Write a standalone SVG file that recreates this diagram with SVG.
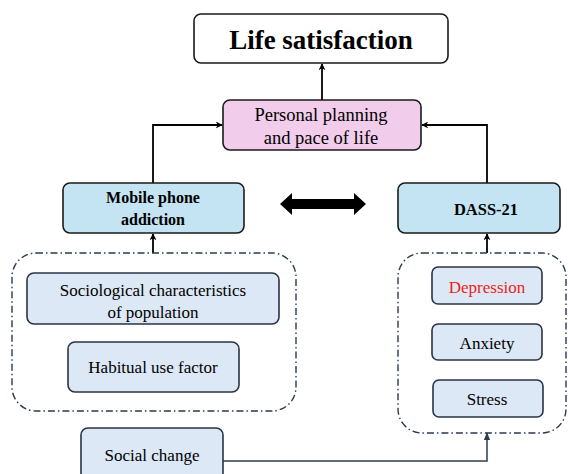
<svg xmlns="http://www.w3.org/2000/svg" width="568" height="474" viewBox="0 0 568 474" font-family="Times New Roman, Liberation Serif, serif">
<defs>
<marker id="ah" viewBox="0 0 10 10" refX="9" refY="5" markerWidth="7" markerHeight="7" markerUnits="userSpaceOnUse" orient="auto"><path d="M0,0 L10,5 L0,10 L3,5 Z" fill="#000"/></marker>
<marker id="ahs" viewBox="0 0 10 10" refX="9" refY="5" markerWidth="8" markerHeight="8" markerUnits="userSpaceOnUse" orient="auto"><path d="M0,1 L10,5 L0,9 Z" fill="#2b3f55"/></marker>
</defs>
<rect width="568" height="474" fill="#fff"/>
<g id="connectors" fill="none" stroke="#000" stroke-width="1.8">
<line x1="322" y1="100" x2="322" y2="64" marker-end="url(#ah)"/>
<polyline points="153,183 153,125 222,125" marker-end="url(#ah)"/>
<polyline points="487,183 487,125 422,125" marker-end="url(#ah)"/>
<line x1="153" y1="253" x2="153" y2="234" marker-end="url(#ah)"/>
<line x1="487" y1="253" x2="487" y2="234" marker-end="url(#ah)"/>
<polyline points="223,461 487,461 487,433" stroke="#2b3f55" stroke-width="1.5" marker-end="url(#ahs)"/>
<path d="M280,204 L292,193 L292,199 L354,199 L354,193 L366,204 L354,215 L354,209 L292,209 L292,215 Z" fill="#000" stroke="none"/>
</g>
<g id="groups" fill="none" stroke="#2a3a4e" stroke-width="1.4" stroke-dasharray="7 3 1.5 3">
<rect id="leftgroup" x="12" y="253" width="284" height="158" rx="24"/>
<rect id="rightgroup" x="398" y="253" width="168" height="180" rx="24"/>
</g>
<g id="life"><rect x="194" y="14" width="254" height="49" rx="7" fill="#fff" stroke="#1a1a1a" stroke-width="1.6"/><text x="321" y="49" font-family="Times New Roman" text-anchor="middle" font-size="27" font-weight="bold">Life satisfaction</text></g>
<g id="personal"><rect x="223" y="100" width="198" height="50" rx="7" fill="#f1cdeb" stroke="#1a1a1a" stroke-width="1.6"/><text x="321" y="121" font-family="Times New Roman" text-anchor="middle" font-size="18.5">Personal planning</text><text x="321" y="144" font-family="Times New Roman" text-anchor="middle" font-size="18.5">and pace of life</text></g>
<g id="mobile"><rect x="63" y="183" width="181" height="50" rx="7" fill="#c5e4f3" stroke="#1a1a1a" stroke-width="1.6"/><text x="153" y="203" font-family="Times New Roman" text-anchor="middle" font-weight="bold" font-size="16">Mobile phone</text><text x="153" y="225" font-family="Times New Roman" text-anchor="middle" font-weight="bold" font-size="16">addiction</text></g>
<g id="dass"><rect x="398" y="183" width="162" height="50" rx="7" fill="#c5e4f3" stroke="#1a1a1a" stroke-width="1.6"/><text x="486" y="215" font-family="Times New Roman" text-anchor="middle" font-weight="bold" font-size="16.5">DASS-21</text></g>
<g id="socio"><rect x="27" y="273" width="252" height="51" rx="7" fill="#dce8f5" stroke="#2a3444" stroke-width="1.6"/><text x="153" y="296" font-family="Times New Roman" text-anchor="middle" font-size="17">Sociological characteristics</text><text x="153" y="318" font-family="Times New Roman" text-anchor="middle" font-size="17">of population</text></g>
<g id="habit"><rect x="68" y="342" width="171" height="50" rx="7" fill="#dce8f5" stroke="#2a3444" stroke-width="1.6"/><text x="153" y="373" font-family="Times New Roman" text-anchor="middle" font-size="17">Habitual use factor</text></g>
<g id="social"><rect x="81" y="428" width="142" height="52" rx="7" fill="#dce8f5" stroke="#2a3444" stroke-width="1.6"/><text x="152" y="461" font-family="Times New Roman" text-anchor="middle" font-size="17">Social change</text></g>
<g id="depression"><rect x="432" y="267" width="110" height="37" rx="6" fill="#dce8f5" stroke="#2a3444" stroke-width="1.6"/><text x="487" y="293" font-family="Times New Roman" text-anchor="middle" font-size="17" fill="#ee1c1c">Depression</text></g>
<g id="anxiety"><rect x="432" y="324" width="110" height="36" rx="6" fill="#dce8f5" stroke="#2a3444" stroke-width="1.6"/><text x="487" y="349" font-family="Times New Roman" text-anchor="middle" font-size="17">Anxiety</text></g>
<g id="stress"><rect x="433" y="380" width="110" height="37" rx="6" fill="#dce8f5" stroke="#2a3444" stroke-width="1.6"/><text x="487" y="405" font-family="Times New Roman" text-anchor="middle" font-size="17">Stress</text></g>
</svg>
